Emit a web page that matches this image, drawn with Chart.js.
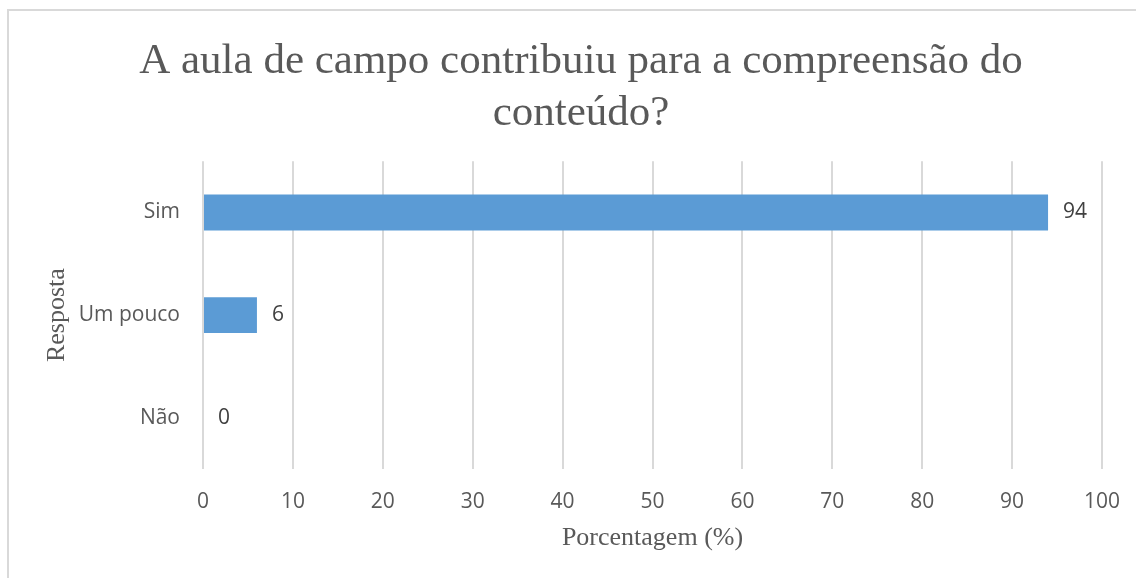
<!DOCTYPE html>
<html>
<head>
<meta charset="utf-8">
<script src="https://cdn.jsdelivr.net/npm/chart.js@4"></script>
<style>
    body { margin: 0; background: #fff; overflow: hidden; }
    #frame { position: absolute; left: 7px; top: 9px; width: 1200px; height: 600px; border-left: 2px solid #d9d9d9; border-top: 2px solid #d9d9d9; }
    #wrap { position: absolute; left: 0; top: 0; width: 1162px; height: 578px; }
</style>
</head>
<body>
<div id="frame"></div>
<div id="wrap"><canvas id="myChart"></canvas></div>
<script>
// data
const categories = ['Sim', 'Um pouco', 'Não']
const values = [94, 6, 0]
const xTicks = [0, 10, 20, 30, 40, 50, 60, 70, 80, 90, 100]

const tickFont = { family: "'Open Sans'", size: 21 }
const serif = "'Liberation Serif'"

// value labels at the end of the bars
const valueLabels = {
    id: 'valueLabels',
    afterDatasetsDraw(chart) {
        const ctx = chart.ctx
        const meta = chart.getDatasetMeta(0)
        ctx.save()
        ctx.font = "21px 'Open Sans'"
        ctx.fillStyle = '#404040'
        ctx.textAlign = 'left'
        ctx.textBaseline = 'middle'
        meta.data.forEach((bar, i) => {
            ctx.fillText(values[i], bar.x + 15, bar.y)
        })
        ctx.restore()
    }
}

const config = {
    type: 'bar',
    data: {
        labels: categories,
        datasets: [{
            data: values,
            backgroundColor: '#5B9BD5',
            categoryPercentage: 1,
            barPercentage: 0.35
        }]
    },
    options: {
        indexAxis: 'y',
        responsive: true,
        maintainAspectRatio: false,
        animation: false,
        // equal side padding keeps the title centred like the original
        layout: { padding: { left: 60, right: 60, top: 0, bottom: 19 } },
        plugins: {
            legend: { display: false },
            tooltip: { enabled: false },
            title: {
                display: true,
                text: ['A aula de campo contribuiu para a compreensão do', 'conteúdo?'],
                color: '#595959',
                font: { family: serif, size: 43, weight: 'normal', lineHeight: 1.2 },
                padding: { top: 36, bottom: 22 }
            }
        },
        scales: {
            x: {
                min: 0,
                max: 100,
                afterBuildTicks: (axis) => { axis.ticks = xTicks.map(v => ({ value: v })) },
                afterFit: (axis) => { axis.height = 90 },
                grid: { color: '#d9d9d9', lineWidth: 2, drawTicks: false },
                border: { display: false },
                ticks: { color: '#595959', font: tickFont, padding: 20 },
                title: {
                    display: true,
                    text: 'Porcentagem (%)',
                    color: '#595959',
                    font: { family: serif, size: 26 },
                    padding: { top: 0, bottom: 5 }
                }
            },
            y: {
                afterFit: (axis) => { axis.width = 143 },
                grid: { display: false },
                border: { display: false },
                ticks: { color: '#595959', font: tickFont, padding: 15 },
                title: {
                    display: true,
                    text: 'Resposta',
                    color: '#595959',
                    font: { family: serif, size: 26 },
                    padding: { top: -18.6, bottom: 0 }
                }
            }
        }
    },
    plugins: [valueLabels]
}

const myChart = new Chart(document.getElementById('myChart'), config)
</script>
</body>
</html>
